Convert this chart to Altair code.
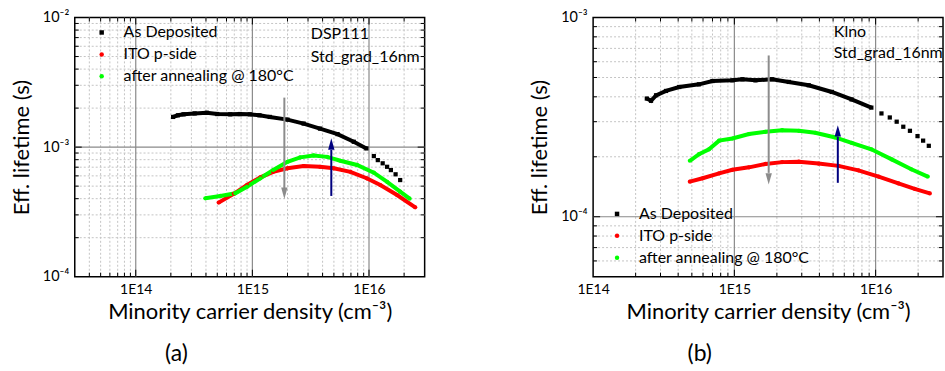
import altair as alt
import pandas as pd

FONT = "Lato"
SERIES = ["As Deposited", "ITO p-side", "after annealing @ 180°C"]
COLORS = ["#000000", "#ff0000", "#00ff00"]
SHAPES = ["square", "circle", "circle"]

# ---------------- Panel (a) data ----------------
a_black_x = [2.09e14, 2.3e14, 2.57e14, 3.2e14, 4.07e14, 5.0e14, 6.46e14, 7.8e14, 9.5e14, 1.15e15, 1.41e15, 2.0e15, 2.75e15, 3.8e15, 5.37e15, 7.4e15, 9.5e15]
a_black_y = [1.71e-3, 1.76e-3, 1.79e-3, 1.82e-3, 1.84e-3, 1.80e-3, 1.79e-3, 1.80e-3, 1.79e-3, 1.76e-3, 1.71e-3, 1.63e-3, 1.52e-3, 1.39e-3, 1.26e-3, 1.10e-3, 0.977e-3]
a_black_tail_x = [1.10e16, 1.19e16, 1.31e16, 1.43e16, 1.54e16, 1.69e16, 1.85e16]
a_black_tail_y = [8.53e-4, 7.94e-4, 7.5e-4, 7.05e-4, 6.65e-4, 6.17e-4, 5.57e-4]
a_red_x = [5.14e14, 6.92e14, 9.0e14, 1.17e15, 1.51e15, 2.0e15, 2.75e15, 3.8e15, 4.98e15, 6.92e15, 9.55e15, 1.25e16, 1.74e16, 2.49e16]
a_red_y = [3.73e-4, 4.36e-4, 5.1e-4, 5.85e-4, 6.45e-4, 6.86e-4, 7.15e-4, 7.05e-4, 6.86e-4, 6.45e-4, 5.75e-4, 5.1e-4, 4.27e-4, 3.43e-4]
a_green_x = [3.95e14, 5.32e14, 7.14e14, 9.0e14, 1.17e15, 1.51e15, 2.0e15, 2.57e15, 3.35e15, 4.37e15, 5.68e15, 7.89e15, 1.1e16, 1.43e16, 1.85e16, 2.23e16]
a_green_y = [4.03e-4, 4.2e-4, 4.4e-4, 4.95e-4, 5.75e-4, 6.65e-4, 7.7e-4, 8.33e-4, 8.62e-4, 8.41e-4, 7.85e-4, 7.28e-4, 6.35e-4, 5.4e-4, 4.53e-4, 4.0e-4]
a_arrow_x = [1.88e15, 4.75e15]
a_arrow_from = [2.41e-3, 4.2e-4]
a_arrow_base = [4.8e-4, 9.5e-4]
a_arrow_tip = [3.98e-4, 1.17e-3]
a_ann_x = [3.17e15, 3.17e15]
a_ann_y = [7.5e-3, 5.0e-3]
a_ann_text = ["DSP111", "Std_grad_16nm"]

# ---------------- Panel (b) data ----------------
b_black_x = [2.4e14, 2.57e14, 2.79e14, 3.28e14, 4.07e14, 5.62e14, 7.0e14, 9.68e14, 1.14e15, 1.41e15, 1.85e15, 2.43e15, 3.36e15, 4.9e15, 6.76e15, 9.33e15]
b_black_y = [3.92e-4, 3.82e-4, 4.07e-4, 4.28e-4, 4.48e-4, 4.62e-4, 4.8e-4, 4.84e-4, 4.9e-4, 4.84e-4, 4.9e-4, 4.75e-4, 4.57e-4, 4.23e-4, 3.88e-4, 3.53e-4]
b_black_tail_x = [1.10e16, 1.26e16, 1.41e16, 1.57e16, 1.75e16, 1.98e16, 2.17e16, 2.38e16]
b_black_tail_y = [3.3e-4, 3.15e-4, 3.0e-4, 2.83e-4, 2.7e-4, 2.54e-4, 2.41e-4, 2.27e-4]
b_red_x = [4.84e14, 5.96e14, 7.8e14, 9.68e14, 1.27e15, 1.66e15, 2.18e15, 2.86e15, 3.94e15, 5.46e15, 7.55e15, 1.05e16, 1.45e16, 1.89e16, 2.42e16]
b_red_y = [1.5e-4, 1.56e-4, 1.65e-4, 1.72e-4, 1.77e-4, 1.84e-4, 1.88e-4, 1.89e-4, 1.85e-4, 1.8e-4, 1.71e-4, 1.59e-4, 1.47e-4, 1.38e-4, 1.31e-4]
b_green_x = [4.84e14, 5.62e14, 6.61e14, 7.8e14, 9.68e14, 1.27e15, 1.66e15, 2.18e15, 2.86e15, 3.74e15, 5.18e15, 6.76e15, 9.33e15, 1.3e16, 1.79e16, 2.34e16]
b_green_y = [1.91e-4, 2.06e-4, 2.18e-4, 2.41e-4, 2.47e-4, 2.6e-4, 2.67e-4, 2.72e-4, 2.7e-4, 2.64e-4, 2.5e-4, 2.35e-4, 2.18e-4, 1.94e-4, 1.73e-4, 1.59e-4]
b_arrow_x = [1.75e15, 5.4e15]
b_arrow_from = [6.45e-4, 1.48e-4]
b_arrow_base = [1.66e-4, 2.52e-4]
b_arrow_tip = [1.45e-4, 2.88e-4]
b_ann_x = [5.06e15, 5.06e15]
b_ann_y = [8.5e-4, 6.6e-4]
b_ann_text = ["Klno", "Std_grad_16nm"]

ARROW_COLORS = ["#8c8c8c", "#00007f"]
HEAD_DOWN = "M -0.28 -1 L 0 0 L 0.28 -1 Z"
HEAD_UP = "M -0.28 1 L 0 0 L 0.28 1 Z"
ARROW_HEADS = [HEAD_DOWN, HEAD_UP]

W, H = 351, 260
TXT = 16


def decades(lo, hi):
    major, minor = [], []
    for e in range(-6, 18):
        for m in range(1, 10):
            v = m * 10.0 ** e
            if lo * 1.0001 < v < hi * 0.9999:
                (major if m == 1 else minor).append(v)
    return major, minor


def series_df(bx, by, tx, ty, rx, ry, gx, gy):
    rows = []
    for x, y in zip(bx, by):
        rows.append(dict(x=x, y=y, series=SERIES[0], col=COLORS[0], seg="line"))
    for x, y in zip(tx, ty):
        rows.append(dict(x=x, y=y, series=SERIES[0], col=COLORS[0], seg="tail"))
    for x, y in zip(rx, ry):
        rows.append(dict(x=x, y=y, series=SERIES[1], col=COLORS[1], seg="line"))
    for x, y in zip(gx, gy):
        rows.append(dict(x=x, y=y, series=SERIES[2], col=COLORS[2], seg="line"))
    return pd.DataFrame(rows)


def panel(df, xdom, ydom, arrows, ann, leg_xy, caption, cap_x):
    xs = alt.Scale(type="log", domain=xdom, nice=False)
    ys = alt.Scale(type="log", domain=ydom, nice=False)
    xmaj, xmin = decades(*xdom)
    ymaj, ymin = decades(*ydom)
    xall_maj = [v for v in [1e13, 1e14, 1e15, 1e16, 1e17] if xdom[0] <= v <= xdom[1]]
    yall_maj = [v for v in [1e-5, 1e-4, 1e-3, 1e-2] if ydom[0] <= v <= ydom[1]]
    dxmin = pd.DataFrame({"v": xmin})
    dymin = pd.DataFrame({"v": ymin})
    dxmaj = pd.DataFrame({"v": xmaj})
    dymaj = pd.DataFrame({"v": ymaj})

    xaxis = alt.Axis(values=xall_maj, labelExpr="datum.value == 1e14 ? '1E14' : datum.value == 1e15 ? '1E15' : datum.value == 1e16 ? '1E16' : ''",
                     ticks=False, grid=False, domain=False, labelFontSize=14, labelPadding=6,
                     title="Minority carrier density (cm⁻³)", titleFontSize=22, titlePadding=5, labelFlush=False)
    yaxis = alt.Axis(values=yall_maj, labelExpr="datum.value >= 0.005 ? '10⁻²' : datum.value >= 0.0005 ? '10⁻³' : '10⁻⁴'",
                     ticks=False, grid=False, domain=False, labelFontSize=14.5, labelPadding=6,
                     title="Eff. lifetime (s)", titleFontSize=22, titlePadding=9, labelFlush=False)

    def X(f): return alt.X(f, scale=xs, axis=xaxis)
    def Y(f): return alt.Y(f, scale=ys, axis=yaxis)

    layers = [
        alt.Chart(dxmin).mark_rule(color="#c4c4c4", strokeDash=[2, 2], strokeWidth=1).encode(x=X("v:Q")),
        alt.Chart(dymin).mark_rule(color="#c4c4c4", strokeDash=[2, 2], strokeWidth=1).encode(y=Y("v:Q")),
        alt.Chart(dxmaj).mark_rule(color="#8a8a8a", strokeWidth=1.2).encode(x=X("v:Q")),
        alt.Chart(dymaj).mark_rule(color="#8a8a8a", strokeWidth=1.2).encode(y=Y("v:Q")),
    ]
    # inward ticks on all four sides
    for d, ln in ((dxmin, 4), (dxmaj, 7)):
        layers.append(alt.Chart(d).mark_rule(color="black").encode(x=X("v:Q"), y=alt.value(H), y2=alt.value(H - ln)))
        layers.append(alt.Chart(d).mark_rule(color="black").encode(x=X("v:Q"), y=alt.value(0), y2=alt.value(ln)))
    for d, ln in ((dymin, 4), (dymaj, 7)):
        layers.append(alt.Chart(d).mark_rule(color="black").encode(y=Y("v:Q"), x=alt.value(0), x2=alt.value(ln)))
        layers.append(alt.Chart(d).mark_rule(color="black").encode(y=Y("v:Q"), x=alt.value(W), x2=alt.value(W - ln)))

    base = alt.Chart(df)
    layers.append(
        base.transform_filter("datum.seg == 'line'").mark_line(strokeWidth=4).encode(
            x=X("x:Q"), y=Y("y:Q"),
            color=alt.Color("col:N", scale=None),
            detail="series:N",
        )
    )
    layers.append(
        base.mark_point(filled=True, opacity=1, strokeWidth=0, size=18).encode(
            x=X("x:Q"), y=Y("y:Q"),
            color=alt.Color("series:N", scale=alt.Scale(domain=SERIES, range=COLORS),
                            legend=alt.Legend(orient="none", legendX=leg_xy[0], legendY=leg_xy[1], title=None,
                                              labelFont=FONT, labelFontSize=TXT, labelColor="black", labelLimit=0,
                                              symbolSize=20, symbolStrokeWidth=0, labelOffset=14,
                                              rowPadding=6, padding=0)),
            shape=alt.Shape("series:N", scale=alt.Scale(domain=SERIES, range=SHAPES)),
        )
    )
    arr = alt.Chart(arrows)
    layers.append(arr.mark_rule(strokeWidth=2).encode(
        x=X("x:Q"), y=Y("y1:Q"), y2="y2:Q", color=alt.Color("col:N", scale=None)))
    layers.append(arr.mark_point(filled=True, opacity=1, strokeWidth=0, size=520).encode(
        x=X("x:Q"), y=Y("tip:Q"),
        shape=alt.Shape("head:N", scale=None), color=alt.Color("col:N", scale=None)))
    layers.append(alt.Chart(ann).mark_text(align="left", baseline="middle", fontSize=TXT, font=FONT, color="black").encode(
        x=X("x:Q"), y=Y("y:Q"), text="t:N"))
    layers.append(alt.Chart(pd.DataFrame({"t": [caption]})).mark_text(
        align="center", baseline="middle", fontSize=23, font=FONT, color="black").encode(
        x=alt.value(cap_x), y=alt.value(338), text="t:N"))
    return alt.layer(*layers).properties(width=W, height=H)


dfa = series_df(a_black_x, a_black_y, a_black_tail_x, a_black_tail_y, a_red_x, a_red_y, a_green_x, a_green_y)
dfb = series_df(b_black_x, b_black_y, b_black_tail_x, b_black_tail_y, b_red_x, b_red_y, b_green_x, b_green_y)
arrows_a = pd.DataFrame({"x": a_arrow_x, "y1": a_arrow_from, "y2": a_arrow_base, "tip": a_arrow_tip, "col": ARROW_COLORS, "head": ARROW_HEADS})
arrows_b = pd.DataFrame({"x": b_arrow_x, "y1": b_arrow_from, "y2": b_arrow_base, "tip": b_arrow_tip, "col": ARROW_COLORS, "head": ARROW_HEADS})
ann_a = pd.DataFrame({"x": a_ann_x, "y": a_ann_y, "t": a_ann_text})
ann_b = pd.DataFrame({"x": b_ann_x, "y": b_ann_y, "t": b_ann_text})

pa = panel(dfa, [3e13, 3e16], [1e-4, 1e-2], arrows_a, ann_a, (19, 7), "(a)", 102)
pb = panel(dfb, [1e14, 3e16], [5e-5, 1e-3], arrows_b, ann_b, (16, 189), "(b)", 107)

chart = alt.hconcat(pa, pb, spacing=169, bounds="flush").resolve_scale(
    x="independent", y="independent", color="independent", shape="independent"
).resolve_legend(color="independent", shape="independent").properties(
    padding={"left": 9, "top": 8, "right": 0, "bottom": 0}
).configure_view(stroke="black", strokeWidth=1.5).configure_axis(
    labelFont=FONT, titleFont=FONT, labelColor="black", titleColor="black", titleFontWeight="normal"
)

chart.save("out.html", embed_options={"renderer": "svg", "actions": False})
